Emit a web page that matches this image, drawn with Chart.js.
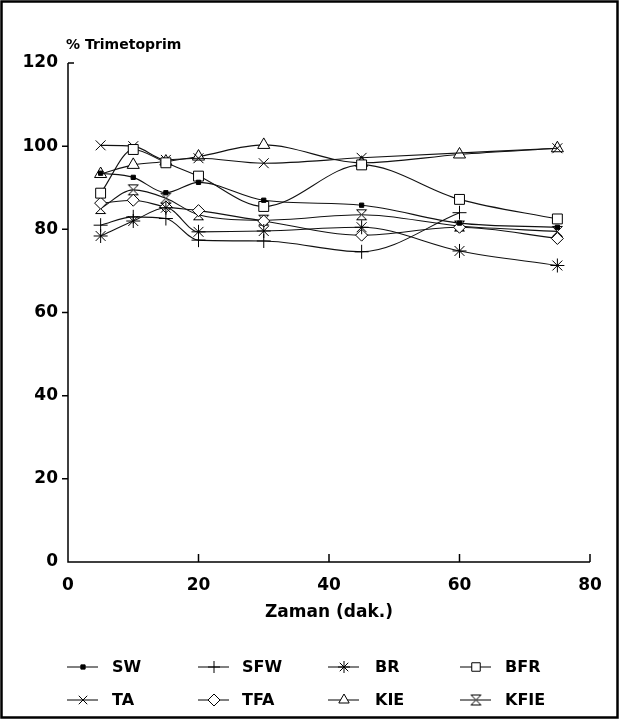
<!DOCTYPE html>
<html>
<head>
<meta charset="utf-8">
<script src="https://cdn.jsdelivr.net/npm/chart.js@4.4.1/dist/chart.umd.min.js"></script>
<style>
    html, body { margin: 0; padding: 0; background: #fff; }
    #wrap { width: 619px; height: 719px; }
</style>
</head>
<body>
<div id="wrap"><canvas id="trimChart" width="619" height="719"></canvas></div>
<script>
// sampling times (dak.)
const timePoints = [5, 10, 15, 20, 30, 45, 60, 75];

// % Trimetoprim per formulation
const swValues   = [93.5, 92.5, 88.8, 91.3, 87.0, 85.8, 81.5, 80.5];
const sfwValues  = [81.0, 83.0, 82.6, 77.4, 77.2, 74.6, 84.0, null];
const brValues   = [78.4, 82.0, 85.2, 79.4, 79.6, 80.5, 74.8, 71.3];
const bfrValues  = [88.7, 99.2, 96.0, 92.8, 85.5, 95.5, 87.2, 82.5];
const taValues   = [100.2, 100.0, 96.7, 97.1, 95.9, 97.2, null, 99.5];
const tfaValues  = [86.3, 87.0, 85.4, 84.5, 82.0, 78.6, 80.5, 77.8];
const kieValues  = [93.3, 95.5, 96.3, 97.5, 100.3, 96.0, 98.0, 99.5];
const kfieValues = [85.0, 89.5, 87.5, 83.5, 82.2, 83.5, 80.8, 79.5];

const seriesLabels = ['SW', 'SFW', 'BR', 'BFR', 'TA', 'TFA', 'KIE', 'KFIE'];
const yTicks = [0, 20, 40, 60, 80, 100, 120];
const xTicks = [0, 20, 40, 60, 80];

const FONT = '"DejaVu Sans", "Liberation Sans", sans-serif';

// hourglass marker for KFIE
function makeHourglass() {
    const c = document.createElement('canvas');
    c.width = 13; c.height = 13;
    const g = c.getContext('2d');
    g.fillStyle = '#fff';
    g.strokeStyle = '#000';
    g.lineWidth = 1;
    g.beginPath();
    g.moveTo(1.5, 1.5);
    g.lineTo(11.5, 1.5);
    g.lineTo(1.5, 11.5);
    g.lineTo(11.5, 11.5);
    g.closePath();
    g.fill();
    g.stroke();
    return c;
}
const hourglass = makeHourglass();

function toPoints(values) {
    return timePoints.map((t, i) => ({ x: t, y: values[i] }));
}

function series(label, values, style, radius, fill) {
    return {
        label: label,
        data: toPoints(values),
        borderColor: '#111',
        borderWidth: 1.1,
        pointStyle: style,
        pointRadius: radius,
        pointBorderColor: '#000',
        pointBorderWidth: 1,
        pointBackgroundColor: fill,
        cubicInterpolationMode: 'monotone',
        spanGaps: true,
        fill: false
    };
}

const datasets = [
    series(seriesLabels[0], swValues, 'rect', 3, '#000'),
    series(seriesLabels[1], sfwValues, 'cross', 7, '#fff'),
    series(seriesLabels[2], brValues, 'star', 7, '#fff'),
    series(seriesLabels[3], bfrValues, 'rect', 7, '#fff'),
    series(seriesLabels[4], taValues, 'crossRot', 7, '#fff'),
    series(seriesLabels[5], tfaValues, 'rectRot', 6, '#fff'),
    series(seriesLabels[6], kieValues, 'triangle', 7, '#fff'),
    series(seriesLabels[7], kfieValues, hourglass, 7, '#fff')
];

// axis lines with the little tick marks of the original plot
const axesPlugin = {
    id: 'plainAxes',
    afterDatasetsDraw(chart) {
        const ctx = chart.ctx;
        const xs = chart.scales.x;
        const ys = chart.scales.y;
        const left = xs.getPixelForValue(0);
        const bottom = ys.getPixelForValue(0);
        const right = xs.getPixelForValue(80);
        const top = ys.getPixelForValue(120);
        ctx.save();
        ctx.strokeStyle = '#000';
        ctx.lineWidth = 1.5;
        ctx.beginPath();
        ctx.moveTo(left, top);
        ctx.lineTo(left, bottom);
        ctx.lineTo(right, bottom);
        yTicks.forEach(v => {
            if (v === 0) return;
            const py = ys.getPixelForValue(v);
            if (v === 120) {
                ctx.moveTo(left, py);
                ctx.lineTo(left + 6, py);
            } else {
                ctx.moveTo(left - 6, py);
                ctx.lineTo(left, py);
            }
        });
        xTicks.forEach(v => {
            if (v === 0) return;
            const px = xs.getPixelForValue(v);
            ctx.moveTo(px, bottom);
            ctx.lineTo(px, bottom - 8);
        });
        ctx.stroke();
        ctx.restore();
    }
};

const decorPlugin = {
    id: 'decor',
    afterDraw(chart) {
        const ctx = chart.ctx;
        ctx.save();
        // frame
        ctx.strokeStyle = '#000';
        ctx.lineWidth = 2.5;
        ctx.strokeRect(1.5, 1.5, 616, 716);

        // axis caption
        ctx.fillStyle = '#000';
        ctx.font = 'bold 14px ' + FONT;
        ctx.textBaseline = 'middle';
        ctx.textAlign = 'left';
        ctx.fillText('% Trimetoprim', 66, 45);

        // legend, 4 columns x 2 rows
        const lineX = [67, 198, 328, 460];
        const textX = [112, 242, 375, 505];
        const rowY = [667, 700];
        ctx.font = 'bold 16px ' + FONT;
        chart.data.datasets.forEach((ds, i) => {
            const col = i % 4;
            const row = Math.floor(i / 4);
            const y = rowY[row];
            ctx.strokeStyle = '#000';
            ctx.lineWidth = 1;
            ctx.beginPath();
            ctx.moveTo(lineX[col], y);
            ctx.lineTo(lineX[col] + 31, y);
            ctx.stroke();
            ctx.fillStyle = ds.pointBackgroundColor;
            Chart.helpers.drawPoint(ctx, {
                pointStyle: ds.pointStyle,
                rotation: 0,
                radius: Math.min(ds.pointRadius, 6),
                borderWidth: 1
            }, lineX[col] + 16, y);
            ctx.fillStyle = '#000';
            ctx.fillText(ds.label, textX[col], y + 1);
        });
        ctx.restore();
    }
};

new Chart(document.getElementById('trimChart').getContext('2d'), {
    type: 'line',
    data: { datasets: datasets },
    options: {
        responsive: false,
        animation: false,
        layout: {
            padding: { left: 0, top: 63, right: 29, bottom: 96 }
        },
        plugins: {
            legend: { display: false },
            tooltip: { enabled: false },
            title: { display: false }
        },
        scales: {
            x: {
                type: 'linear',
                min: 0,
                max: 80,
                afterBuildTicks: scale => { scale.ticks = xTicks.map(v => ({ value: v })); },
                afterFit: scale => { scale.height = 61; },
                grid: { display: false, drawTicks: false },
                border: { display: false },
                ticks: {
                    color: '#000',
                    padding: 13,
                    font: { family: FONT, size: 17, weight: 'bold' }
                },
                title: {
                    display: true,
                    text: 'Zaman (dak.)',
                    color: '#000',
                    padding: { top: 0, bottom: 0 },
                    font: { family: FONT, size: 17, weight: 'bold' }
                }
            },
            y: {
                type: 'linear',
                min: 0,
                max: 120,
                afterBuildTicks: scale => { scale.ticks = yTicks.map(v => ({ value: v })); },
                afterFit: scale => { scale.width = 68; },
                grid: { display: false, drawTicks: false },
                border: { display: false },
                ticks: {
                    color: '#000',
                    padding: 10,
                    font: { family: FONT, size: 17, weight: 'bold' }
                }
            }
        }
    },
    plugins: [axesPlugin, decorPlugin]
});
</script>
</body>
</html>
